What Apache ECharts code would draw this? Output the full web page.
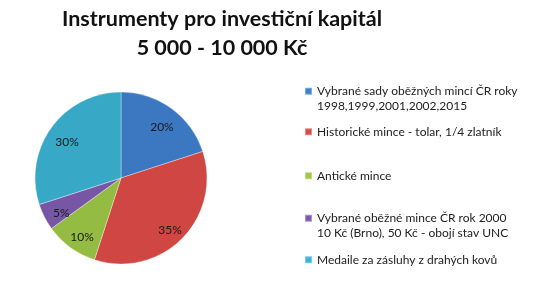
<!DOCTYPE html>
<html><head><meta charset="utf-8">
<script src="https://cdn.jsdelivr.net/npm/echarts@6/dist/echarts.min.js"></script>
<style>html,body{margin:0;padding:0;background:#fff}#c{width:544px;height:288px}</style>
</head><body><div id="c"></div>
<script>
const titleLines = ['Instrumenty pro investiční kapitál', '5 000 - 10 000 Kč'];
const categories = [
  'Vybrané sady oběžných mincí ČR roky\n1998,1999,2001,2002,2015',
  'Historické mince - tolar, 1/4 zlatník',
  'Antické mince',
  'Vybrané oběžné mince ČR rok 2000\n10 Kč (Brno), 50 Kč - obojí stav UNC',
  'Medaile za zásluhy z drahých kovů'
];
const values = [20, 35, 10, 5, 30];
const colors = ['#3f80cd', '#dc4a46', '#9fc846', '#7e5bb0', '#3ab4d4'];
const legendTops = [69.5, 124.5, 168.5, 196.5, 252.5];

function shade(hex, f) {
  const n = parseInt(hex.slice(1), 16);
  let r = n >> 16, g = (n >> 8) & 255, b = n & 255;
  const m = v => Math.max(0, Math.min(255, Math.round(f > 0 ? v + (255 - v) * f : v * (1 + f))));
  return 'rgb(' + m(r) + ',' + m(g) + ',' + m(b) + ')';
}
const fills = colors.map(c => new echarts.graphic.RadialGradient(0.5, 0.5, 0.5, [
  {offset: 0, color: shade(c, 0.06)},
  {offset: 0.9, color: c},
  {offset: 1, color: shade(c, -0.06)}
], true));

const chart = echarts.init(document.getElementById('c'), null, {renderer: 'canvas'});
const FONT = 'Lato';
const LH = 14.5;
const center = [121, 178];
const legends = categories.map((name, i) => ({
  data: [{name: name, itemStyle: {color: colors[i]}}],
  left: 304, top: legendTops[i], padding: 0,
  orient: 'vertical', itemWidth: 7, itemHeight: 7, itemGap: 0,
  icon: 'rect', selectedMode: false,
  formatter: n => (n.indexOf('\n') >= 0 ? ' \n' + n : n),
  textStyle: {fontFamily: FONT, fontSize: 12, color: '#222', lineHeight: LH}
}));
chart.setOption({
  animation: false,
  title: {
    text: titleLines.join('\n'), left: 222, top: 5, padding: 0, textAlign: 'center',
    textStyle: {fontFamily: FONT, fontWeight: 'bold', fontSize: 21.5, lineHeight: 29, color: '#111'}
  },
  legend: legends,
  series: [{
    type: 'pie', center: center, radius: [0, 86], startAngle: 90, clockwise: true,
    data: categories.map((n, i) => ({name: n, value: values[i], itemStyle: {color: fills[i]}})),
    itemStyle: {borderColor: 'rgba(255,255,255,0.35)', borderWidth: 1},
    label: {show: false}, labelLine: {show: false}, emphasis: {disabled: true}
  }, {
    type: 'pie', center: center, radius: [44, 86], startAngle: 90, clockwise: true, silent: true, z: 5,
    data: categories.map((n, i) => ({name: n, value: values[i]})),
    itemStyle: {color: 'rgba(0,0,0,0)'},
    label: {show: true, position: 'inside', formatter: '{d}%', offset: [1, 4], fontFamily: FONT, fontSize: 12, color: '#1a1a1a'},
    labelLine: {show: false}, emphasis: {disabled: true}
  }]
});
</script></body></html>
